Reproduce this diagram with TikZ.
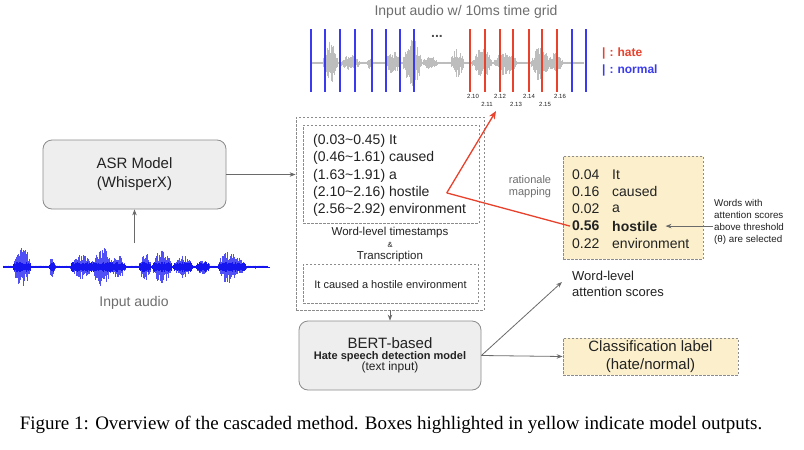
\documentclass[tikz,border=0pt]{standalone}
\usepackage{fontspec}
\setmainfont{Liberation Sans}
\newfontfamily\capfont{Liberation Serif}
\usetikzlibrary{arrows.meta,calc}
\newcommand\fsz[2]{\fontsize{#1pt}{#2pt}\selectfont}
\definecolor{boxgray}{HTML}{EEEEEE}
\definecolor{edgegray}{HTML}{8C8C8C}
\definecolor{ylw}{HTML}{FCF0CC}
\definecolor{txt}{HTML}{222222}
\definecolor{lgtxt}{HTML}{6E6E6E}
\definecolor{hred}{HTML}{E8412C}
\definecolor{nblue}{HTML}{3A3AEE}
\definecolor{wblue}{HTML}{1515F0}
\definecolor{wgray}{HTML}{BDBDBD}
\definecolor{conngray}{HTML}{6A6A6A}
\begin{document}
\begin{tikzpicture}[x=1pt,y=-1pt,
  declare function={
    envb(\x)=1.5+19*max(0,1-((\x-22)/9)^2)+9*max(0,1-((\x-52)/3)^2)
      +11*max(0,1-((\x-82)/12)^2)+20*max(0,1-((\x-102)/10)^2)
      +10*max(0,1-((\x-118)/8)^2)+13*max(0,1-((\x-145)/6)^2)
      +16*max(0,1-((\x-162)/10)^2)+10*max(0,1-((\x-183)/10)^2)
      +6*max(0,1-((\x-203)/7)^2)+16*max(0,1-((\x-228)/10)^2)
      +8*max(0,1-((\x-240)/6)^2);
    envg(\x)=1.5+22*max(0,1-((\x-330)/8)^2)+7*max(0,1-((\x-350)/10)^2)
      +6*max(0,1-((\x-370)/3)^2)+10*max(0,1-((\x-393)/8)^2)
      +24*max(0,1-((\x-412)/10)^2)+6*max(0,1-((\x-430)/8)^2)
      +13*max(0,1-((\x-457)/7)^2)+15*max(0,1-((\x-482)/10)^2)
      +11*max(0,1-((\x-505)/12)^2)+17*max(0,1-((\x-540)/9)^2)
      +9*max(0,1-((\x-555)/8)^2);
  },
  modelbox/.style={draw=edgegray, fill=boxgray, rounded corners=9pt, line width=0.8pt, inner sep=0pt},
  dbox/.style={draw=edgegray, dash pattern=on 2.5pt off 1.5pt, line width=0.8pt, inner sep=0pt},
  ybox/.style={dbox, fill=ylw},
  conn/.style={draw=conngray, line width=0.8pt, -{Stealth[length=6pt,width=4.5pt]}},
  lbl/.style={inner sep=1pt, text=txt},
  row/.style={anchor=west, inner sep=2pt, text=txt, font=\fsz{14}{16}},
  tick/.style={inner sep=0pt, text=txt, font=\fsz{6}{7}},
  gridb/.style={nblue, line width=1.1pt},
  gridr/.style={hred, line width=1.1pt},
]
\useasboundingbox (0,0) rectangle (804,450);
\fill[white] (0,0) rectangle (804,450);

% ---------- top waveform with time grid ----------
\node[lbl, text=lgtxt, font=\fsz{14}{16}] (title) at (466,12) {Input audio w/ 10ms time grid};
\pgfmathsetseed{11}
\draw[wgray, line width=0.5pt] (310,63) -- (583,63);
\foreach \x in {310,310.8,...,583} {
  \pgfmathsetmacro\e{envg(\x)}
  \pgfmathsetmacro\u{\e*(0.35+0.65*rnd)}
  \pgfmathsetmacro\d{\e*(0.35+0.65*rnd)}
  \draw[wgray, line width=0.45pt] (\x,63-\u) -- (\x,63+\d);
}
\foreach \x in {311,325,340,355,372,386,400,414,572,586} \draw[gridb] (\x,29) -- (\x,92);
\foreach \x in {470,485,500,513,529,542,557} \draw[gridr] (\x,29) -- (\x,92);
\node[inner sep=0pt, text=txt!80, font=\fsz{14}{16}\bfseries] (dots) at (437,36) {...};
\node[tick] (t210) at (473,96) {2.10};
\node[tick] (t211) at (487,104) {2.11};
\node[tick] (t212) at (500,96) {2.12};
\node[tick] (t213) at (516,104) {2.13};
\node[tick] (t214) at (529,96) {2.14};
\node[tick] (t215) at (545,104) {2.15};
\node[tick] (t216) at (560,96) {2.16};
\node[anchor=west, inner sep=0pt, text=hred, font=\fsz{12}{14}\bfseries] (lhate) at (602,53) {|\,\,:\,\,hate};
\node[anchor=west, inner sep=0pt, text=nblue, font=\fsz{12}{14}\bfseries] (lnorm) at (602,70) {|\,\,:\,\,normal};

% ---------- input audio (blue waveform) ----------
\pgfmathsetseed{5}
\foreach \x in {3,3.7,...,268} {
  \pgfmathsetmacro\e{envb(\x)}
  \pgfmathsetmacro\u{\e*(0.4+0.6*rnd)}
  \pgfmathsetmacro\d{\e*(0.4+0.6*rnd)}
  \draw[wblue!75, line width=0.5pt] (\x,267-\u) -- (\x,267+\d);
  \pgfmathsetmacro\c{min(\e,5)*(0.5+0.5*rnd)}
  \draw[wblue, line width=0.7pt] (\x,267-\c) -- (\x,267+\c);
}
\draw[wblue, line width=0.8pt] (3,267) -- (270,267);
\coordinate (audio) at (134.5,243);
\node[lbl, text=lgtxt, font=\fsz{14}{16}] (inaudio) at (134,303) {Input audio};

% ---------- ASR ----------
\node[modelbox, minimum width=183pt, minimum height=69pt, font=\fsz{15}{19}, text=txt, align=center] (ASR) at (134.5,174.5) {ASR Model\\(WhisperX)};
\draw[conn] (audio) -- (ASR.south);

% ---------- transcription block ----------
\node[dbox, minimum width=188pt, minimum height=193pt] (outer) at (390,213.5) {};
\node[dbox, minimum width=176pt, minimum height=98pt] (inner1) at (391,174) {};
\node[dbox, minimum width=175pt, minimum height=39pt] (inner2) at (390.5,283.5) {};
\node[row] (r1) at (311,141) {(0.03\string~0.45) It};
\node[row] (r2) at (311,158.3) {(0.46\string~1.61) caused};
\node[row] (r3) at (311,175.6) {(1.63\string~1.91) a};
\node[row] (r4) at (311,192.9) {(2.10\string~2.16) hostile};
\node[row] (r5) at (311,210.2) {(2.56\string~2.92) environment};
\node[lbl, font=\fsz{11.5}{12}, align=center] (wlt) at (390,245) {Word-level timestamps\\{\fsz{7.5}{12}\&}\\Transcription};
\node[lbl, font=\fsz{11}{13}] (trans) at (390.5,284.5) {It caused a hostile environment};
\draw[conn] (ASR.east) -- (ASR.east -| outer.west);

% ---------- BERT ----------
\node[modelbox, minimum width=182pt, minimum height=69pt, text=txt, align=center] (BERT) at (390,355.5)
  {{\fsz{15}{17}BERT-based}\\[-1pt]{\fsz{11}{14}\bfseries Hate speech detection model}\\[-1pt]{\fsz{12}{14}(text input)}};
\draw[conn] (outer.south) -- (BERT.north);

% ---------- outputs ----------
\node[ybox, minimum width=175pt, minimum height=37pt, font=\fsz{15}{18}, text=txt, align=center] (cls) at (650.5,356.5) {Classification label\\(hate/normal)};
\draw[conn] (BERT.east) -- (cls.west);

\node[ybox, minimum width=140pt, minimum height=103pt] (att) at (633,207.5) {};
\node[row] (n1) at (570,174.5) {0.04};
\node[row] (n2) at (570,191.7) {0.16};
\node[row] (n3) at (570,208.9) {0.02};
\node[row, font=\fsz{14}{16}\bfseries] (n4) at (570,226.1) {0.56};
\node[row] (n5) at (570,243.3) {0.22};
\node[row] (w1) at (610,174.5) {It};
\node[row] (w2) at (610,191.7) {caused};
\node[row] (w3) at (610,208.9) {a};
\node[row, font=\fsz{14}{16}\bfseries] (w4) at (610,226.1) {hostile};
\node[row] (w5) at (610,243.3) {environment};

\node[lbl, anchor=west, font=\fsz{13}{16}, align=left] (wla) at (571,284) {Word-level\\attention scores};
\coordinate (watip) at (562,282);
\draw[conn] (BERT.east) -- (watip);

\node[lbl, anchor=west, font=\fsz{9.8}{11.8}, align=left] (annot) at (713,222) {Words with\\attention scores\\above threshold\\(θ) are selected};
\draw[conn] (annot.west |- w4.east) -- ([xshift=6pt]w4.east);

\node[lbl, text=lgtxt, font=\fsz{11}{12}, align=center] (ratmap) at (530,187) {rationale\\mapping};

% ---------- rationale mapping (red) ----------
\coordinate (rtip) at (496,111);
\draw[hred, line width=1.3pt] ([xshift=15pt]r4.east) -- (n4.west);
\draw[hred, line width=1.3pt, -{Stealth[length=8pt,width=6.5pt]}] ([xshift=15pt]r4.east) -- (rtip);

% ---------- caption ----------
\node[inner sep=0pt, font=\capfont\fsz{19}{22}, text=black] (caption) at (391,425)
  {Figure 1: Overview of the cascaded method. Boxes highlighted in yellow indicate model outputs.};
\end{tikzpicture}
\end{document}
